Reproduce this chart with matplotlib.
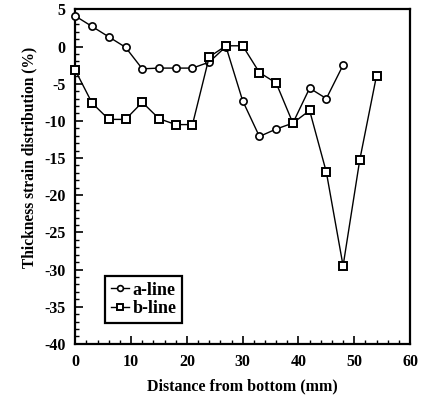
import matplotlib
matplotlib.use("Agg")
import matplotlib.pyplot as plt
from matplotlib.ticker import MultipleLocator

a_x = [0, 3, 6, 9, 12, 15, 18, 21, 24, 27, 30, 33, 36, 39, 42, 45, 48]
a_y = [4.1, 2.7, 1.3, -0.1, -3.0, -2.9, -2.9, -2.9, -2.1, 0.0, -7.3, -12.1, -11.1, -10.3, -5.6, -7.0, -2.5]
b_x = [0, 3, 6, 9, 12, 15, 18, 21, 24, 27, 30, 33, 36, 39, 42, 45, 48, 51, 54]
b_y = [-3.2, -7.6, -9.8, -9.8, -7.5, -9.7, -10.5, -10.5, -1.4, 0.1, 0.1, -3.5, -4.9, -10.3, -8.6, -16.9, -29.5, -15.2, -3.9]

plt.rcParams['font.family'] = ['Liberation Serif', 'DejaVu Serif']
plt.rcParams['axes.unicode_minus'] = False

fig = plt.figure(figsize=(4.28, 4.07), dpi=100)
ax = fig.add_axes([0.176, 0.155, 0.782, 0.822])

ax.plot(a_x, a_y, '-', color='black', lw=1.0, marker='o', ms=5.2,
        mfc='white', mec='black', mew=1.2, label='a-line', clip_on=False, zorder=3)
ax.plot(b_x, b_y, '-', color='black', lw=1.0, marker='s', ms=5.2,
        mfc='white', mec='black', mew=1.4, label='b-line', clip_on=False, zorder=3)

ax.set_xlim(0, 60)
ax.set_ylim(-40, 5)
ax.xaxis.set_major_locator(MultipleLocator(10))
ax.xaxis.set_minor_locator(MultipleLocator(2))
ax.yaxis.set_major_locator(MultipleLocator(5))
ax.yaxis.set_minor_locator(MultipleLocator(1))
ax.tick_params(which='both', direction='in', top=False, right=False)
ax.tick_params(which='major', length=6, width=1.2, labelsize=11.5, pad=7)
ax.tick_params(which='minor', length=3, width=1.0)
for lbl in ax.get_xticklabels() + ax.get_yticklabels():
    lbl.set_fontweight('bold')
for s in ax.spines.values():
    s.set_linewidth(1.6)

ax.set_xlabel('Distance from bottom (mm)', fontsize=11.5, fontweight='bold', labelpad=6)
ax.set_ylabel('Thickness strain distribution (%)', fontsize=11.2, fontweight='bold')
ax.yaxis.set_label_coords(-0.112, 0.557)

leg = ax.legend(loc='lower left', bbox_to_anchor=(0.09, 0.063), borderaxespad=0,
                fancybox=False, edgecolor='black', framealpha=1,
                prop={'family': 'Liberation Serif', 'weight': 'bold', 'size': 13},
                handlelength=1.0, handletextpad=0.2, markerscale=0.8,
                borderpad=0.3, labelspacing=0.1)
leg.get_frame().set_linewidth(1.6)

fig.savefig('out.png', dpi=100)
